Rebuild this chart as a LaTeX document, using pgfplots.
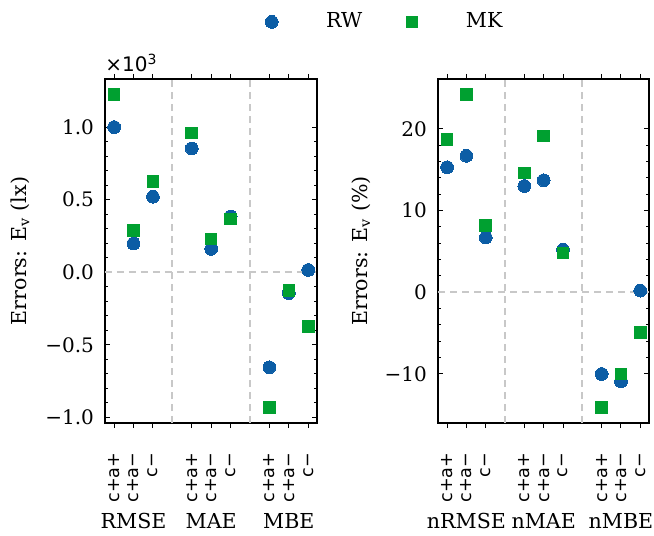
\documentclass[border=0pt]{standalone}
\usepackage{fontspec}
\setmainfont{DejaVu Serif}
\newfontfamily\tickfont{DejaVu Sans}
\usepackage{pgfplots}
\pgfplotsset{compat=1.18}
\usetikzlibrary{calc}

\definecolor{rwblue}{HTML}{0C5DA5}
\definecolor{mkgreen}{HTML}{00A030}
\definecolor{gridgray}{HTML}{C8C8C8}

\tikzset{gridsep/.style={gridgray, line width=1pt, dash pattern=on 3.5pt off 2.5pt}}

\pgfplotsset{
  errpanel/.style={
    scale only axis, width=106pt, height=172pt,
    xmin=-0.47, xmax=10.45,
    xtick={0,1,2,4,5,6,8,9,10},
    xticklabels={c+a+,c+a−,c−,c+a+,c+a−,c−,c+a+,c+a−,c−},
    xticklabel style={rotate=90, anchor=east, font=\tickfont\fontsize{8.8}{10}\selectfont, inner sep=1pt},
    xtick align=outside, xticklabel pos=lower,
    xticklabel shift=11pt,
    ytick align=inside, yticklabel pos=left,
    minor y tick num=4,
    major tick length=2.6pt, minor tick length=1.5pt,
    tick style={line width=0.5pt, black},
    axis line style={line width=0.7pt},
    yticklabel style={font=\fontsize{10}{11}\selectfont, xshift=-2pt},
    label style={font=\fontsize{10.3}{12}\selectfont},
    scaled y ticks=false,
    every axis plot/.append style={only marks},
    clip=false,
  },
  rw/.style={mark=*, mark size=3.2pt, mark options={draw=rwblue, fill=rwblue, line width=0pt}},
  mk/.style={mark=square*, mark size=2.9pt, mark options={draw=mkgreen, fill=mkgreen, line width=0pt}},
}

\begin{document}
\begin{tikzpicture}
\useasboundingbox (0,0) rectangle (327pt,268pt);

% left panel: absolute errors
\begin{axis}[errpanel,
  name=left, at={(52.5pt,56.5pt)}, anchor=south west,
  ymin=-1.038, ymax=1.331,
  ytick={-1,-0.5,0,0.5,1},
  yticklabels={−1.0,−0.5,0.0,0.5,1.0},
  ylabel={Errors: E\textsubscript{v} (lx)},
  ylabel style={at={(axis description cs:-0.40,0.5)}, anchor=center},
  legend columns=2,
  legend style={draw=none, fill=none, at={(1.325,1.166)}, anchor=center,
    font=\fontsize{10.3}{12}\selectfont,
    /tikz/every odd column/.append style={column sep=22pt},
    /tikz/every even column/.append style={column sep=20pt}},
]
\draw[gridsep] (axis cs:3,-1.038) -- (axis cs:3,1.331);
\draw[gridsep] (axis cs:7,-1.038) -- (axis cs:7,1.331);
\draw[gridsep] (axis cs:-0.47,0) -- (axis cs:10.45,0);
\addplot[rw] coordinates {
  (0,1.000) (1,0.198) (2,0.520) (4,0.853) (5,0.161) (6,0.384) (8,-0.655) (9,-0.143) (10,0.016) };
\addplot[mk] coordinates {
  (0,1.223) (1,0.287) (2,0.625) (4,0.959) (5,0.230) (6,0.368) (8,-0.930) (9,-0.126) (10,-0.372) };
\legend{RW, MK}
\node[anchor=south west, inner sep=0pt, font=\tickfont\fontsize{10}{11}\selectfont]
  at ([yshift=3.5pt]rel axis cs:0,1) {×10\textsuperscript{3}};
\node[font=\fontsize{10.3}{12}\selectfont] at ([yshift=-49pt]axis cs:1,-1.038) {RMSE};
\node[font=\fontsize{10.3}{12}\selectfont] at ([yshift=-49pt]axis cs:5,-1.038) {MAE};
\node[font=\fontsize{10.3}{12}\selectfont] at ([yshift=-49pt]axis cs:9,-1.038) {MBE};
\end{axis}

% right panel: normalised errors
\begin{axis}[errpanel,
  name=right, at={(219pt,56.5pt)}, anchor=south west, width=105.5pt,
  ymin=-16.0, ymax=26.1,
  ytick={-10,0,10,20},
  yticklabels={−10,0,10,20},
  ylabel={Errors: E\textsubscript{v} (\%)},
  ylabel style={at={(axis description cs:-0.365,0.5)}, anchor=center},
]
\draw[gridsep] (axis cs:3,-16) -- (axis cs:3,26.1);
\draw[gridsep] (axis cs:7,-16) -- (axis cs:7,26.1);
\draw[gridsep] (axis cs:-0.47,0) -- (axis cs:10.45,0);
\addplot[rw] coordinates {
  (0,15.3) (1,16.7) (2,6.7) (4,13.0) (5,13.7) (6,5.2) (8,-10.0) (9,-10.9) (10,0.2) };
\addplot[mk] coordinates {
  (0,18.7) (1,24.2) (2,8.2) (4,14.6) (5,19.1) (6,4.8) (8,-14.1) (9,-10.0) (10,-4.9) };
\node[font=\fontsize{10.3}{12}\selectfont] at ([yshift=-49pt]axis cs:1,-16) {nRMSE};
\node[font=\fontsize{10.3}{12}\selectfont] at ([yshift=-49pt]axis cs:5,-16) {nMAE};
\node[font=\fontsize{10.3}{12}\selectfont] at ([yshift=-49pt]axis cs:9,-16) {nMBE};
\end{axis}
\end{tikzpicture}
\end{document}
